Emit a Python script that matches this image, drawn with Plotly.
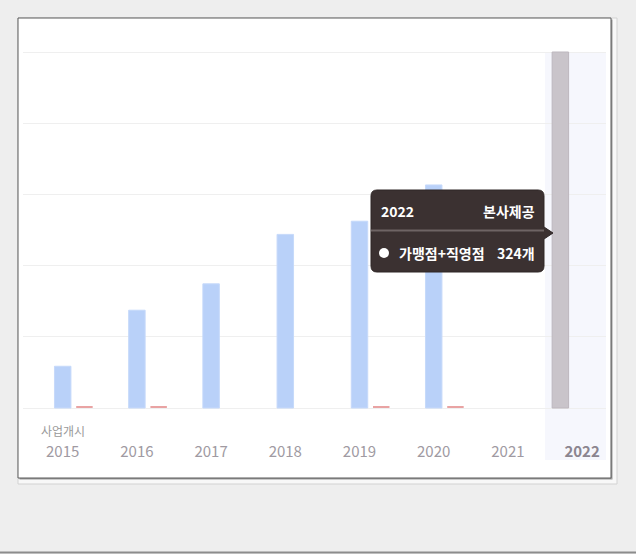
import plotly.graph_objects as go

# ---- data ----
years = ["2015", "2016", "2017", "2018", "2019", "2020", "2021", "2022"]
tick_labels = ["2015", "2016", "2017", "2018", "2019", "2020", "2021",
               "<span style='color:#8b8590'><b>2022</b></span>"]
franchise_vals = [38, 89, 113, 158, 170, 203, None, None]      # blue bars
closed_vals = [1.5, 1.5, None, None, 1.5, 1.5, None, None]     # small red bars
hq_vals = [None, None, None, None, None, None, None, 324]      # grey bar (본사제공)
y_max = 324

# ---- geometry helpers (pixel -> paper) ----
W, H = 636, 554
L, R, T, B = 23, 30, 50, 144
PW, PH = W - L - R, H - T - B
k = 356 / y_max                      # px per unit (0 at 408px, max at 52px)
y_lo = -(H - B - 408) / k
y_hi = y_max + (52 - T) / k


def px(x):
    return (x - L) / PW


def py(y):
    return (H - B - y) / PH


idx = list(range(len(years)))
bw = 0.222
off = 0.293

fig = go.Figure()
fig.add_trace(go.Bar(x=idx, y=hq_vals, name="가맹점+직영점", width=bw, offset=-off - bw / 2,
                     marker=dict(color="#c9c4ca", line=dict(color="#bdb7be", width=1))))
fig.add_trace(go.Bar(x=idx, y=franchise_vals, name="가맹점", width=bw, offset=-bw / 2,
                     marker=dict(color="#b9d1f9", line=dict(color="#c6d9fa", width=1))))
fig.add_trace(go.Bar(x=idx, y=closed_vals, name="폐점", width=bw, offset=off - bw / 2,
                     marker=dict(color="#e9a3a3", line=dict(width=0))))

shapes = []
# outer light frame + white panel with dark border
shapes.append(dict(type="rect", xref="paper", yref="paper", x0=px(18), x1=px(617), y0=py(484), y1=py(18),
                   fillcolor="#f8f8f8", line=dict(color="#d2d2d2", width=1), layer="below"))
shapes.append(dict(type="rect", xref="paper", yref="paper", x0=px(19.5), x1=px(612.5), y0=py(479.5), y1=py(19.5),
                   fillcolor="#9a9a9a", line=dict(width=0), layer="below"))
shapes.append(dict(type="rect", xref="paper", yref="paper", x0=px(18), x1=px(611), y0=py(478), y1=py(18),
                   fillcolor="#ffffff", line=dict(color="#5a5a5a", width=1), layer="below"))
# highlight band for 2022
shapes.append(dict(type="rect", xref="x", yref="paper", x0=6.5, x1=7.322, y0=py(460), y1=py(52),
                   fillcolor="#f6f7fd", line=dict(width=0), layer="below"))
# bottom edge of picture
shapes.append(dict(type="line", xref="paper", yref="paper", x0=px(0), x1=px(636), y0=py(552.5), y1=py(552.5),
                   line=dict(color="#8c8c8c", width=2), layer="below"))

# tooltip box with rounded corners and arrow
x0, x1, y0, y1 = 371, 544, 190, 272
r = 6
rx, ry = r / PW, r / PH
X0, X1, Y0, Y1 = px(x0), px(x1), py(y1), py(y0)  # Y0 bottom, Y1 top
path = (f"M {X0+rx},{Y1} L {X1-rx},{Y1} Q {X1},{Y1} {X1},{Y1-ry} "
        f"L {X1},{py(227)} L {px(553)},{py(233)} L {X1},{py(239)} "
        f"L {X1},{Y0+ry} Q {X1},{Y0} {X1-rx},{Y0} L {X0+rx},{Y0} Q {X0},{Y0} {X0},{Y0+ry} "
        f"L {X0},{Y1-ry} Q {X0},{Y1} {X0+rx},{Y1} Z")
shapes.append(dict(type="path", xref="paper", yref="paper", path=path,
                   fillcolor="#3b3131", line=dict(color="#2e2626", width=1), layer="above"))
shapes.append(dict(type="line", xref="paper", yref="paper", x0=X0, x1=X1, y0=py(230.5), y1=py(230.5),
                   line=dict(color="#6e6464", width=2), layer="above"))
shapes.append(dict(type="circle", xref="paper", yref="paper", x0=px(379), x1=px(389), y0=py(258), y1=py(248),
                   fillcolor="#ffffff", line=dict(width=0), layer="above"))

tt_font = dict(family="Noto Sans CJK KR", size=14, color="#ffffff")
annotations = [
    dict(xref="paper", yref="paper", x=px(379), y=py(211), text="<b>2022</b>", showarrow=False,
         xanchor="left", yanchor="middle", font=tt_font),
    dict(xref="paper", yref="paper", x=px(537), y=py(211), text="<b>본사제공</b>", showarrow=False,
         xanchor="right", yanchor="middle", font=tt_font),
    dict(xref="paper", yref="paper", x=px(397), y=py(253), text="<b>가맹점+직영점</b>", showarrow=False,
         xanchor="left", yanchor="middle", font=tt_font),
    dict(xref="paper", yref="paper", x=px(537), y=py(253), text="<b>324개</b>", showarrow=False,
         xanchor="right", yanchor="middle", font=tt_font),
    dict(xref="x", yref="paper", x=0, y=py(430), text="사업개시", showarrow=False,
         xanchor="center", yanchor="middle",
         font=dict(family="Noto Sans CJK KR", size=12, color="#9a9a9a")),
]

fig.update_layout(
    width=W, height=H,
    margin=dict(l=L, r=R, t=T, b=B, pad=0),
    paper_bgcolor="#eeeeee",
    plot_bgcolor="rgba(0,0,0,0)",
    barmode="overlay",
    showlegend=False,
    shapes=shapes,
    annotations=annotations,
    xaxis=dict(range=[-0.535, 7.322], tickmode="array", tickvals=idx, ticktext=tick_labels,
               showgrid=False, zeroline=False, showline=False, ticks="",
               ticklabelstandoff=31,
               tickfont=dict(family="Noto Sans CJK KR", size=15, color="#a09aa2")),
    yaxis=dict(range=[y_lo, y_hi], tickmode="array",
               tickvals=[y_max * i / 5 for i in range(6)],
               showticklabels=False, showgrid=True, gridcolor="#efefef", gridwidth=1,
               zeroline=False, showline=False, ticks=""),
)

fig.write_html("out.html", config={"displayModeBar": False},
               post_script="document.body.style.margin='0';document.body.style.background='#eeeeee';")
